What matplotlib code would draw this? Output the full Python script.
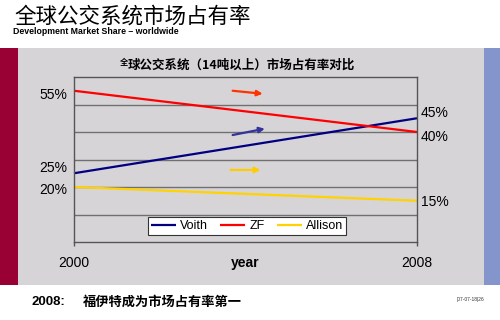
import matplotlib
matplotlib.use("Agg")
import matplotlib.pyplot as plt
from matplotlib.patches import Rectangle

plt.rcParams['font.family'] = ['Liberation Sans', 'Noto Sans CJK SC', 'DejaVu Sans']

# ---- data ----
years = [2000, 2008]
series_names = ["Voith", "ZF", "Allison"]
voith = [25, 45]
zf = [55, 40]
allison = [20, 15]
series_colors = ["#000080", "#FF0000", "#FFD200"]
left_labels = ["25%", "55%", "20%"]
right_labels = ["45%", "40%", "15%"]
arrow_starts = [(2003.7, 38.9), (2003.7, 55.0), (2003.65, 26.2)]
arrow_ends = [(2004.45, 41.2), (2004.4, 53.9), (2004.35, 26.2)]
arrow_colors = ["#333399", "#FF3300", "#FFCC00"]

W, H = 500, 320
fig = plt.figure(figsize=(5, 3.2), dpi=100)
fig.patch.set_facecolor("white")

def fx(px):
    return px / W

def fy(py):
    return 1 - py / H

# background panels
fig.add_artist(Rectangle((fx(0), fy(285)), fx(18), (285 - 48) / H, transform=fig.transFigure,
                         facecolor="#990033", edgecolor="none", zorder=0))
fig.add_artist(Rectangle((fx(18), fy(285)), fx(466), (285 - 48) / H, transform=fig.transFigure,
                         facecolor="#D7D4D7", edgecolor="none", zorder=0))
fig.add_artist(Rectangle((fx(484), fy(285)), fx(16), (285 - 48) / H, transform=fig.transFigure,
                         facecolor="#8495CC", edgecolor="none", zorder=0))

# axes
ax = fig.add_axes([fx(74), fy(242), fx(417 - 74), (242 - 77) / H])
ax.set_facecolor("none")
ax.set_xlim(2000, 2008)
ax.set_ylim(0, 60)
for s in ax.spines.values():
    s.set_color("#555555")
    s.set_linewidth(1.0)
ax.set_yticks([10, 20, 30, 40, 50])
ax.yaxis.grid(True, color="#707070", linewidth=1.0)
ax.tick_params(axis='y', length=0, labelleft=False)
ax.set_xticks(years)
ax.set_xticklabels([str(y) for y in years], fontsize=10)
ax.tick_params(axis='x', length=3, width=1, color="#555555", pad=7)

all_series = [voith, zf, allison]
for name, vals, col in zip(series_names, all_series, series_colors):
    ax.plot(years, vals, color=col, linewidth=1.6, label=name, solid_capstyle='butt', clip_on=False)

left_offsets = [5, -4, -3]
right_offsets = [5, -5, -1]
for vals, lab, off in zip(all_series, left_labels, left_offsets):
    ax.annotate(lab, xy=(years[0], vals[0]), xytext=(-7, off), textcoords='offset pixels',
                ha='right', va='center', fontsize=10)
for vals, lab, off in zip(all_series, right_labels, right_offsets):
    ax.annotate(lab, xy=(years[1], vals[1]), xytext=(4, off), textcoords='offset pixels',
                ha='left', va='center', fontsize=10)

for st, en, col in zip(arrow_starts, arrow_ends, arrow_colors):
    ax.annotate("", xy=en, xytext=st,
                arrowprops=dict(arrowstyle='-|>', color=col, lw=1.6,
                                mutation_scale=8, shrinkA=0, shrinkB=0))

leg = ax.legend(loc='center', bbox_to_anchor=(fx(247), fy(226)), bbox_transform=fig.transFigure,
                ncol=3, fontsize=9, frameon=True, fancybox=False, edgecolor="#333333",
                handlelength=2.0, handletextpad=0.3, columnspacing=1.0,
                borderpad=0.25, borderaxespad=0)
leg.get_frame().set_linewidth(0.8)
leg.get_frame().set_facecolor("white")
leg.get_frame().set_alpha(1)

# texts
fig.text(fx(245), fy(263), "year", ha='center', va='center', fontsize=10, fontweight='bold')
fig.text(fx(128), fy(65), "全", ha='right', va='baseline', fontsize=6,
         family=['Noto Sans CJK SC', 'DejaVu Sans'], fontweight='bold')
fig.text(fx(128), fy(69), "球公交系统（14吨以上）市场占有率对比", ha='left', va='baseline',
         fontsize=9, family=['Noto Sans CJK SC', 'DejaVu Sans'], fontweight='bold')

fig.text(fx(14), fy(17), "全球公交系统市场占有率", ha='left', va='center', fontsize=15.5,
         family=['Noto Sans CJK SC', 'DejaVu Sans'], fontweight='light')
fig.text(fx(13), fy(31), "Development Market Share – worldwide", ha='left', va='center',
         fontsize=6.3, fontweight='bold', fontstretch='condensed')

fig.text(fx(32), fy(302), "2008:", ha='left', va='center', fontsize=9.5, fontweight='bold')
fig.text(fx(83), fy(302), "福伊特成为市场占有率第一", ha='left', va='center', fontsize=9.5,
         family=['Noto Sans CJK SC', 'DejaVu Sans'], fontweight='bold')
fig.text(fx(484), fy(300), "|07-07-18|26", ha='right', va='center', fontsize=3.5, color="#333333")

fig.savefig("out.png", dpi=100, facecolor=fig.get_facecolor())
